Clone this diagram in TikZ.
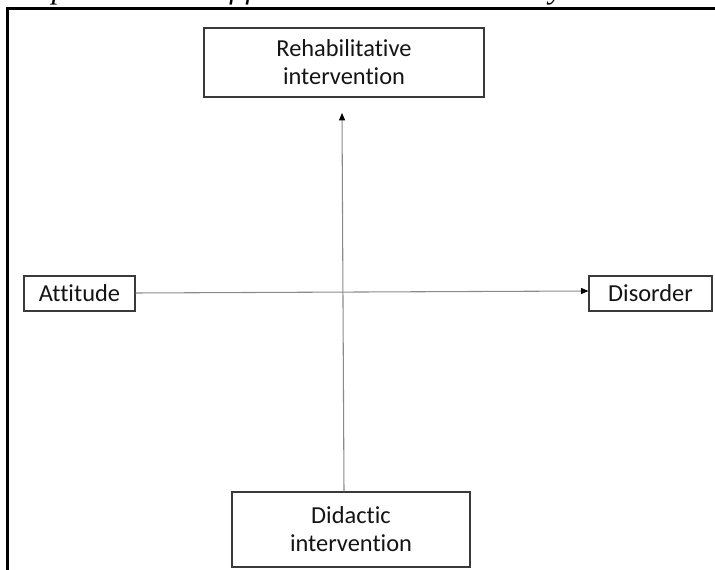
\documentclass[tikz,border=0pt]{standalone}
\usepackage{fontspec}
\setmainfont[RawFeature=-liga]{Carlito}
\newfontfamily\titlefont{Liberation Serif}
\usetikzlibrary{arrows.meta,calc}
\definecolor{boxline}{HTML}{3A3A3A}
\definecolor{connline}{HTML}{8A8A8A}
\definecolor{txt}{HTML}{141414}
\begin{document}
\begin{tikzpicture}[x=0.75pt,y=-0.75pt,
  box/.style={draw=boxline,line width=0.9pt,text=txt,inner sep=0pt,
    font=\fontsize{18.3}{21}\selectfont,align=center},
  conn/.style={draw=connline,line width=0.8pt,
    -{Triangle[length=5.5pt,width=4.5pt,color=black]}},
  frame/.style={draw=black,line width=2.6pt,line join=miter}]
\useasboundingbox (0,0) rectangle (715,570);
\clip (0,0) rectangle (715,570);
\node[anchor=base west,inner sep=0pt,font=\titlefont\itshape\fontsize{23.25}{26}\selectfont]
  (title) at (19,-1.8) {Representation of factorial axis obtained by MCA};
\draw[frame] (7.5,580) -- (7.5,8.5) -- (725,8.5);
\node[box,minimum width=210pt,minimum height=51.75pt] (rehab) at (344,62.5)
  {Rehabilitative\\intervention};
\node[box,minimum width=83.25pt,minimum height=26.25pt] (attitude) at (79.5,293.5)
  {Attitude};
\node[box,minimum width=92.25pt,minimum height=26.25pt] (disorder) at (650.5,293.5)
  {Disorder};
\node[box,minimum width=178.5pt,minimum height=56.25pt] (didactic) at (351,529.5)
  {Didactic\\intervention};
\coordinate (vtop) at (342,113);
\draw[conn] ($(didactic.north)+(-7,0)$) -- (vtop);
\draw[conn] ($(attitude.east)+(0,-0.5)$) -- ($(disorder.west)+(0,-2.5)$);
\end{tikzpicture}
\end{document}
